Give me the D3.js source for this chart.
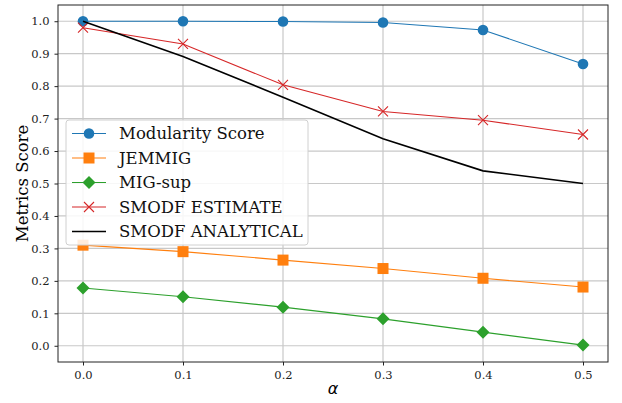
<!DOCTYPE html>
<html>
<head>
<meta charset="utf-8">
<script src="https://cdn.jsdelivr.net/npm/d3@7"></script>
<style>
  body { margin: 0; background: #fff; }
  svg { display: block; }
</style>
</head>
<body>
<svg id="chart" width="622" height="403"></svg>
<script>
var alphas = [0.0, 0.1, 0.2, 0.3, 0.4, 0.5];
var modularity = [1.0, 1.0, 0.999, 0.996, 0.973, 0.868];
var jemmig = [0.310, 0.290, 0.264, 0.238, 0.208, 0.181];
var migSup = [0.178, 0.151, 0.119, 0.083, 0.042, 0.002];
var smodfEstimate = [0.980, 0.930, 0.804, 0.722, 0.695, 0.651];
var smodfAnalytical = [1.0, 0.891, 0.766, 0.638, 0.539, 0.500];
var xTicks = [0.0, 0.1, 0.2, 0.3, 0.4, 0.5];
var yTicks = [0.0, 0.1, 0.2, 0.3, 0.4, 0.5, 0.6, 0.7, 0.8, 0.9, 1.0];

var series = [
  { name: "Modularity Score", values: modularity, color: "#1f77b4", marker: "circle" },
  { name: "JEMMIG", values: jemmig, color: "#ff7f0e", marker: "square" },
  { name: "MIG-sup", values: migSup, color: "#2ca02c", marker: "diamond" },
  { name: "SMODF ESTIMATE", values: smodfEstimate, color: "#d62728", marker: "x" },
  { name: "SMODF ANALYTICAL", values: smodfAnalytical, color: "#000000", marker: "none" }
];

var svg = d3.select("#chart"),
  margin = { left: 58, right: 14, top: 5, bottom: 41 },
  width = 622 - margin.left - margin.right,
  height = 403 - margin.top - margin.bottom,
  serif = "'DejaVu Serif', serif";

var x = d3.scaleLinear().domain([-0.025, 0.525]).range([0, width]);
var y = d3.scaleLinear().domain([-0.05, 1.05]).range([height, 0]);

var g = svg.append("g").attr("transform", "translate(" + margin.left + "," + margin.top + ")");

// grid
g.append("g").selectAll("line").data(xTicks).enter().append("line")
  .attr("x1", d => x(d)).attr("x2", d => x(d))
  .attr("y1", 0).attr("y2", height)
  .attr("stroke", "#c8c8c8").attr("stroke-width", 1.2);
g.append("g").selectAll("line").data(yTicks).enter().append("line")
  .attr("y1", d => y(d)).attr("y2", d => y(d))
  .attr("x1", 0).attr("x2", width)
  .attr("stroke", "#c8c8c8").attr("stroke-width", 1.2);

// axes
var xAxis = g.append("g").attr("transform", "translate(0," + height + ")")
  .call(d3.axisBottom(x).tickValues(xTicks).tickFormat(d3.format(".1f")).tickSize(3.5).tickPadding(5));
var yAxis = g.append("g")
  .call(d3.axisLeft(y).tickValues(yTicks).tickFormat(d3.format(".1f")).tickSize(3.5).tickPadding(5));
[xAxis, yAxis].forEach(function (a) {
  a.select(".domain").remove();
  a.selectAll("text").attr("font-family", serif).attr("font-size", 11.5).attr("fill", "#222");
  a.selectAll("line").attr("stroke", "#222");
});

// frame
g.append("rect").attr("width", width).attr("height", height)
  .attr("fill", "none").attr("stroke", "#222").attr("stroke-width", 1);

var line = d3.line().x((d, i) => x(alphas[i])).y(d => y(d));

function drawMarker(sel, type, color, cx, cy) {
  if (type === "circle") {
    sel.append("circle").attr("cx", cx).attr("cy", cy).attr("r", 5.3).attr("fill", color);
  } else if (type === "square") {
    sel.append("rect").attr("x", cx - 5.5).attr("y", cy - 5.5).attr("width", 11).attr("height", 11).attr("fill", color);
  } else if (type === "diamond") {
    sel.append("path").attr("d", "M" + cx + "," + (cy - 6.5) + "L" + (cx + 6.5) + "," + cy + "L" + cx + "," + (cy + 6.5) + "L" + (cx - 6.5) + "," + cy + "Z").attr("fill", color);
  } else if (type === "x") {
    sel.append("path").attr("d", "M" + (cx - 5) + "," + (cy - 5) + "L" + (cx + 5) + "," + (cy + 5) + "M" + (cx - 5) + "," + (cy + 5) + "L" + (cx + 5) + "," + (cy - 5))
      .attr("stroke", color).attr("stroke-width", 1.1).attr("fill", "none");
  }
}

series.forEach(function (s) {
  var sg = g.append("g");
  sg.append("path").datum(s.values).attr("d", line)
    .attr("fill", "none").attr("stroke", s.color)
    .attr("stroke-width", s.marker === "none" ? 1.6 : 1.1);
  s.values.forEach(function (v, i) { drawMarker(sg, s.marker, s.color, x(alphas[i]), y(v)); });
});

// legend
var lg = svg.append("g").attr("transform", "translate(66,120)");
lg.append("rect").attr("width", 242).attr("height", 125).attr("rx", 3)
  .attr("fill", "#fff").attr("fill-opacity", 0.85).attr("stroke", "#d0d0d0");
series.forEach(function (s, i) {
  var ly = 13.5 + i * 24.5;
  var row = lg.append("g");
  row.append("line").attr("x1", 6).attr("x2", 40).attr("y1", ly).attr("y2", ly)
    .attr("stroke", s.color).attr("stroke-width", s.marker === "none" ? 1.6 : 1.1);
  drawMarker(row, s.marker, s.color, 23, ly);
  row.append("text").attr("x", 53).attr("y", ly + 5.8).text(s.name)
    .attr("font-family", serif).attr("font-size", 16.5).attr("fill", "#111");
});

// labels
svg.append("text").attr("x", margin.left + width / 2).attr("y", 394)
  .attr("text-anchor", "middle").attr("font-family", "'DejaVu Sans', sans-serif")
  .attr("font-style", "italic").attr("font-size", 16).text("α");
svg.append("text").attr("transform", "translate(28," + (margin.top + height / 2) + ") rotate(-90)")
  .attr("text-anchor", "middle").attr("font-family", serif).attr("font-size", 16.5).text("Metrics Score");
</script>
</body>
</html>
